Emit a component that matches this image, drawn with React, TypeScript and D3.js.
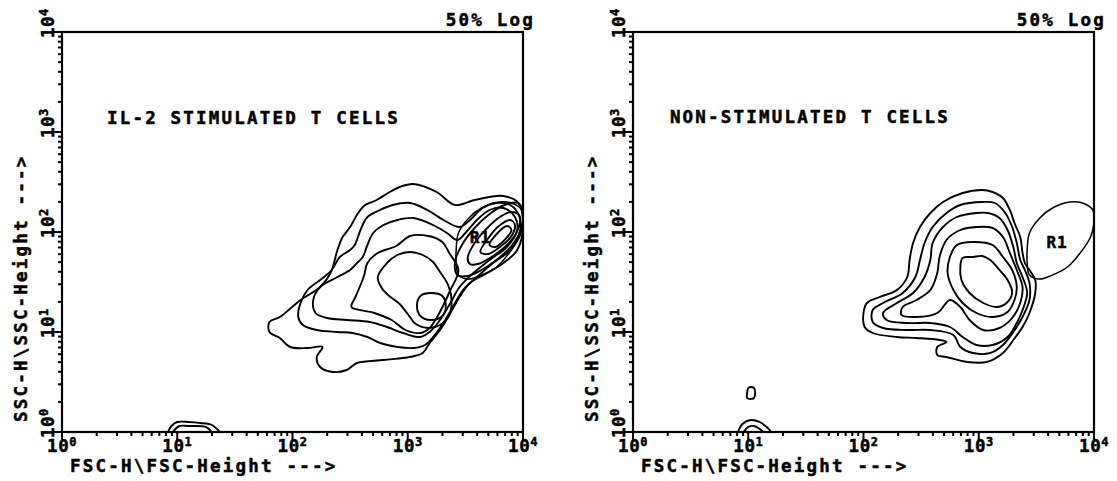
import React from 'react';
import * as d3 from 'd3';

type Pt = [number, number]; // [log10 FSC-H, log10 SSC-H]

const decades = [0, 1, 2, 3, 4];
const xTitle = 'FSC-H\\FSC-Height --->';
const yTitle = 'SSC-H\\SSC-Height --->';
const cornerNote = '50% Log';

// R1 gate, shared by both panels
const gateR1: Pt[] = [
  [3.42, 1.82], [3.44, 1.99], [3.53, 2.14], [3.64, 2.24], [3.79, 2.3], [3.9, 2.29],
  [3.99, 2.22], [4.0, 2.1], [3.97, 1.95], [3.88, 1.79], [3.77, 1.65], [3.64, 1.57],
  [3.53, 1.53], [3.44, 1.57], [3.42, 1.69],
];

// IL-2 stimulated: main population
const il2Main: Pt[][] = [
  [[3.05, 2.48], [3.25, 2.4], [3.41, 2.27], [3.58, 2.32], [3.83, 2.36], [3.96, 2.29], [4.0, 2.07],
    [3.95, 1.82], [3.83, 1.69], [3.69, 1.59], [3.54, 1.49], [3.45, 1.35], [3.37, 1.19], [3.28, 1.02],
    [3.19, 0.89], [3.13, 0.79], [3.02, 0.75], [2.79, 0.72], [2.56, 0.69], [2.47, 0.62], [2.35, 0.6],
    [2.24, 0.65], [2.21, 0.75], [2.26, 0.85], [2.13, 0.84], [1.98, 0.85], [1.89, 0.94], [1.8, 1.0],
    [1.8, 1.1], [1.89, 1.15], [2.07, 1.32], [2.24, 1.45], [2.33, 1.59], [2.39, 1.82], [2.43, 1.94],
    [2.5, 2.05], [2.57, 2.19], [2.63, 2.27], [2.73, 2.32], [2.83, 2.39], [2.93, 2.45]],
  [[3.02, 2.29], [3.17, 2.22], [3.31, 2.12], [3.45, 2.05], [3.54, 2.12], [3.65, 2.24], [3.77, 2.29],
    [3.89, 2.27], [3.97, 2.15], [3.97, 1.99], [3.89, 1.82], [3.74, 1.69], [3.6, 1.55], [3.48, 1.42],
    [3.39, 1.25], [3.31, 1.09], [3.22, 0.95], [3.15, 0.87], [3.05, 0.84], [2.91, 0.85], [2.76, 0.89],
    [2.65, 0.95], [2.52, 0.99], [2.39, 1.0], [2.21, 1.02], [2.09, 1.07], [2.05, 1.15], [2.07, 1.29],
    [2.13, 1.42], [2.24, 1.52], [2.34, 1.62], [2.41, 1.75], [2.5, 1.82], [2.54, 1.87], [2.59, 2.02],
    [2.65, 2.15], [2.76, 2.22], [2.87, 2.27]],
  [[3.05, 2.14], [3.22, 2.07], [3.34, 1.99], [3.43, 1.92], [3.5, 1.99], [3.6, 2.12], [3.71, 2.22],
    [3.83, 2.24], [3.93, 2.15], [3.95, 2.02], [3.86, 1.85], [3.71, 1.72], [3.57, 1.59], [3.45, 1.45],
    [3.37, 1.29], [3.28, 1.12], [3.19, 1.0], [3.11, 0.95], [2.96, 0.99], [2.82, 1.05], [2.67, 1.1],
    [2.47, 1.12], [2.3, 1.14], [2.2, 1.19], [2.18, 1.32], [2.24, 1.45], [2.39, 1.55], [2.5, 1.62],
    [2.56, 1.69], [2.61, 1.75], [2.65, 1.87], [2.7, 1.99], [2.79, 2.07], [2.91, 2.12]],
  [[2.51, 1.26], [2.55, 1.36], [2.62, 1.56], [2.65, 1.69], [2.74, 1.79], [2.9, 1.86], [3.02, 1.96],
    [3.18, 1.96], [3.3, 1.9], [3.36, 1.79], [3.44, 1.62], [3.37, 1.42], [3.31, 1.27], [3.25, 1.14],
    [3.19, 1.04], [3.11, 0.99], [2.98, 1.02], [2.86, 1.12], [2.71, 1.19], [2.52, 1.24]],
  [[2.74, 1.55], [2.82, 1.69], [2.91, 1.77], [3.02, 1.8], [3.13, 1.77], [3.22, 1.7], [3.28, 1.6],
    [3.35, 1.47], [3.38, 1.32], [3.36, 1.17], [3.28, 1.07], [3.18, 1.04], [3.07, 1.08], [3.0, 1.18],
    [2.93, 1.28], [2.85, 1.35], [2.78, 1.43]],
  [[3.08, 1.26], [3.11, 1.36], [3.2, 1.39], [3.3, 1.36], [3.33, 1.26], [3.3, 1.16], [3.2, 1.12], [3.11, 1.16]],
];

// IL-2 stimulated: dense cluster inside R1
const il2Cluster: Pt[][] = [
  [[3.41, 1.7], [3.47, 1.87], [3.58, 2.04], [3.71, 2.18], [3.84, 2.27], [3.96, 2.29], [4.0, 2.2],
    [3.98, 2.02], [3.9, 1.86], [3.78, 1.73], [3.64, 1.62], [3.52, 1.56], [3.43, 1.57]],
  [[3.52, 1.74], [3.58, 1.89], [3.69, 2.04], [3.8, 2.15], [3.9, 2.2], [3.97, 2.16], [3.95, 2.01],
    [3.86, 1.87], [3.74, 1.76], [3.61, 1.68], [3.54, 1.68]],
  [[3.63, 1.8], [3.7, 1.94], [3.79, 2.06], [3.89, 2.12], [3.93, 2.07], [3.9, 1.96], [3.8, 1.85], [3.7, 1.78]],
  [[3.71, 1.87], [3.78, 1.99], [3.86, 2.06], [3.9, 2.02], [3.84, 1.92], [3.76, 1.85]],
];

const il2Debris: Pt[][] = [
  [[0.92, 0], [0.95, 0.06], [1.0, 0.1], [1.1, 0.1], [1.2, 0.09], [1.3, 0.07], [1.37, 0]],
  [[0.96, 0], [1.02, 0.06], [1.1, 0.06], [1.25, 0.05], [1.3, 0]],
];

// Non-stimulated: main population
const nonMain: Pt[][] = [
  [[3.03, 2.42], [2.86, 2.39], [2.69, 2.3], [2.58, 2.19], [2.49, 2.05], [2.43, 1.89], [2.4, 1.72],
    [2.38, 1.55], [2.29, 1.42], [2.14, 1.35], [2.03, 1.29], [2.0, 1.19], [2.01, 1.05], [2.08, 0.99],
    [2.29, 0.95], [2.46, 0.94], [2.66, 0.92], [2.72, 0.9], [2.64, 0.85], [2.64, 0.77], [2.72, 0.75],
    [2.9, 0.7], [3.07, 0.7], [3.21, 0.79], [3.3, 0.92], [3.38, 1.05], [3.44, 1.19], [3.49, 1.39],
    [3.49, 1.52], [3.44, 1.62], [3.4, 1.69], [3.38, 1.79], [3.36, 1.95], [3.31, 2.09], [3.27, 2.22],
    [3.21, 2.34], [3.12, 2.4]],
  [[3.03, 2.3], [2.84, 2.27], [2.72, 2.19], [2.6, 2.05], [2.53, 1.89], [2.49, 1.72], [2.45, 1.55],
    [2.34, 1.39], [2.17, 1.29], [2.08, 1.22], [2.08, 1.1], [2.17, 1.04], [2.38, 1.02], [2.58, 1.02],
    [2.78, 0.97], [2.84, 0.85], [2.95, 0.79], [3.1, 0.79], [3.21, 0.87], [3.3, 1.0], [3.38, 1.15],
    [3.44, 1.32], [3.44, 1.49], [3.4, 1.62], [3.36, 1.72], [3.33, 1.89], [3.29, 2.05], [3.23, 2.19],
    [3.14, 2.29]],
  [[2.98, 2.19], [2.81, 2.15], [2.69, 2.05], [2.6, 1.89], [2.58, 1.72], [2.53, 1.55], [2.43, 1.39],
    [2.29, 1.29], [2.17, 1.19], [2.2, 1.12], [2.38, 1.09], [2.58, 1.09], [2.75, 1.05], [2.86, 0.95],
    [2.98, 0.87], [3.12, 0.87], [3.25, 0.95], [3.33, 1.09], [3.38, 1.22], [3.42, 1.39], [3.38, 1.55],
    [3.33, 1.69], [3.3, 1.85], [3.25, 2.02], [3.18, 2.14], [3.08, 2.19]],
  [[2.98, 2.05], [2.84, 2.02], [2.72, 1.92], [2.66, 1.75], [2.64, 1.59], [2.58, 1.42], [2.46, 1.32],
    [2.34, 1.25], [2.33, 1.17], [2.46, 1.15], [2.64, 1.19], [2.75, 1.32], [2.84, 1.25], [2.92, 1.12],
    [3.04, 1.02], [3.18, 1.04], [3.29, 1.14], [3.36, 1.29], [3.38, 1.45], [3.33, 1.62], [3.27, 1.79],
    [3.21, 1.95], [3.12, 2.04]],
  [[2.95, 1.9], [2.81, 1.87], [2.75, 1.75], [2.73, 1.59], [2.78, 1.42], [2.86, 1.29], [2.98, 1.19],
    [3.12, 1.15], [3.25, 1.2], [3.31, 1.32], [3.33, 1.45], [3.29, 1.62], [3.21, 1.75], [3.12, 1.87]],
  [[2.95, 1.75], [2.86, 1.74], [2.84, 1.65], [2.85, 1.52], [2.92, 1.39], [3.04, 1.29], [3.16, 1.25],
    [3.25, 1.3], [3.29, 1.4], [3.25, 1.52], [3.18, 1.62], [3.1, 1.72], [3.03, 1.76]],
  [[0.99, 0.39], [1.0, 0.44], [1.02, 0.45], [1.05, 0.44], [1.06, 0.39], [1.05, 0.34], [1.02, 0.33], [0.99, 0.34]],
];

const nonDebris: Pt[][] = [
  [[0.91, 0], [0.95, 0.08], [1.02, 0.12], [1.1, 0.1], [1.16, 0.05], [1.2, 0]],
  [[0.96, 0], [1.0, 0.05], [1.05, 0.06], [1.1, 0.03], [1.13, 0]],
];

const panels = [
  { left: 62, title: 'IL-2 STIMULATED T CELLS', titleAt: [0.39, 3.08] as Pt, closed: [...il2Main, ...il2Cluster],
    open: il2Debris, r1At: [3.63, 1.89] as Pt },
  { left: 633, title: 'NON-STIMULATED T CELLS', titleAt: [0.32, 3.09] as Pt, closed: nonMain,
    open: nonDebris, r1At: [3.68, 1.84] as Pt },
];

const PW = 461;
const PH = 400;
const TOP = 32;
// heavy bitmap-like monospace
const FONT = {
  fontFamily: '"DejaVu Sans Mono", monospace', fontWeight: 700, fontSize: 17.5, letterSpacing: 2.2,
  stroke: '#000', strokeWidth: 0.5, fill: '#000',
};

const x = d3.scaleLog().domain([1, 1e4]).range([0, PW]);
const y = d3.scaleLog().domain([1, 1e4]).range([PH, 0]);
const px = (p: Pt) => x(10 ** p[0]);
const py = (p: Pt) => y(10 ** p[1]);
const closedLine = d3.line<Pt>().x(px).y(py).curve(d3.curveCatmullRomClosed.alpha(0.5));
const openLine = d3.line<Pt>().x(px).y(py).curve(d3.curveCatmullRom.alpha(0.5));
const ticks = x.ticks();
const isMajor = (v: number) => Math.abs(Math.log10(v) - Math.round(Math.log10(v))) < 1e-9;

function Panel({ p, idx }: { p: typeof panels[number]; idx: number }) {
  const clipId = `plot-clip-${idx}`;
  return (
    <g transform={`translate(${p.left},${TOP})`} style={FONT}>
      <defs>
        <clipPath id={clipId}>
          <rect x={0} y={0} width={PW} height={PH} />
        </clipPath>
      </defs>
      <g clipPath={`url(#${clipId})`} fill="none" stroke="#000" strokeWidth={1.9} strokeLinejoin="round">
        {p.closed.map((c, i) => <path key={i} d={closedLine(c) ?? ''} />)}
        {p.open.map((c, i) => <path key={`o${i}`} d={openLine(c) ?? ''} />)}
        <path d={closedLine(gateR1) ?? ''} strokeWidth={1.5} />
      </g>
      <text x={px(p.r1At)} y={py(p.r1At)} textAnchor="middle" fontSize={16} letterSpacing={1}>R1</text>
      <text x={px(p.titleAt)} y={py(p.titleAt)}>{p.title}</text>
      <text x={PW + 12} y={-6} textAnchor="end">{cornerNote}</text>

      <rect x={0} y={0} width={PW} height={PH} fill="none" stroke="#000" strokeWidth={2.2} />

      {ticks.map((v, i) => (
        <line key={`xt${i}`} x1={x(v)} x2={x(v)} y1={PH} y2={PH + (isMajor(v) ? 8 : 4)} stroke="#000" strokeWidth={2} />
      ))}
      {ticks.map((v, i) => (
        <line key={`yt${i}`} x1={0} x2={isMajor(v) ? -8 : -4} y1={y(v)} y2={y(v)} stroke="#000" strokeWidth={2} />
      ))}

      {decades.map((d) => (
        <text key={`xl${d}`} x={x(10 ** d)} y={PH + 20} textAnchor="middle" letterSpacing={0.5}>
          10<tspan dy={-6} fontSize={12}>{d}</tspan>
        </text>
      ))}
      {decades.map((d) => (
        <text key={`yl${d}`} transform={`translate(-8,${y(10 ** d) + 6}) rotate(-90)`} letterSpacing={0.5}>
          10<tspan dy={-6} fontSize={12}>{d}</tspan>
        </text>
      ))}

      <text x={8} y={PH + 40}>{xTitle}</text>
      <text transform={`translate(-35,${PH - 10}) rotate(-90)`}>{yTitle}</text>
    </g>
  );
}

export default function App() {
  return (
    <svg width={1117} height={481} style={{ position: 'absolute', left: 0, top: 0, background: '#fff' }}>
      <rect width={1117} height={481} fill="#fff" />
      {panels.map((p, i) => <Panel key={i} p={p} idx={i} />)}
    </svg>
  );
}
